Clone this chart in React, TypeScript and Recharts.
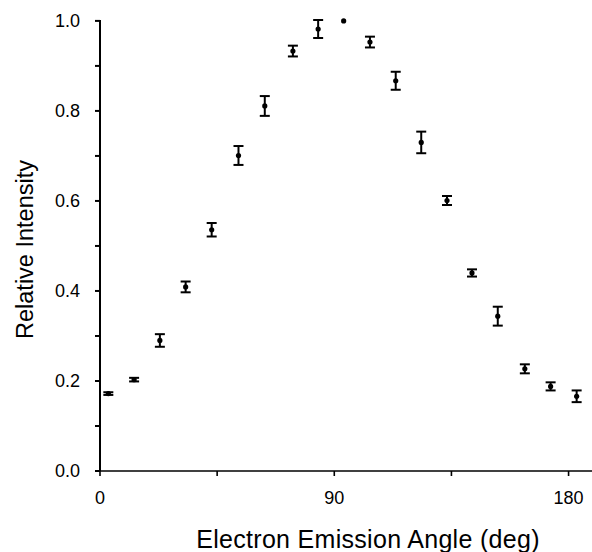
import { ScatterChart, Scatter, XAxis, YAxis, ErrorBar, Label } from "recharts";

// angle (deg) of each measurement
const angles = [3.2, 13.1, 23.0, 32.9, 42.9, 53.2, 63.3, 74.1, 83.8, 93.6, 103.7, 113.6, 123.4, 133.3, 142.9, 152.8, 163.2, 173.1, 183.1];
// relative intensity
const intensity = [0.172, 0.203, 0.29, 0.409, 0.536, 0.701, 0.811, 0.933, 0.982, 1.0, 0.953, 0.867, 0.73, 0.601, 0.44, 0.344, 0.227, 0.188, 0.166];
// +/- error
const errors = [0.003, 0.004, 0.014, 0.012, 0.015, 0.021, 0.022, 0.012, 0.02, 0, 0.012, 0.02, 0.024, 0.01, 0.008, 0.021, 0.01, 0.009, 0.013];

const xTicks = [0, 45, 90, 135, 180];
const xLabels = ["0", "90", "180"];
const yTicks = [0, 0.1, 0.2, 0.3, 0.4, 0.5, 0.6, 0.7, 0.8, 0.9, 1.0];
const yLabels = ["0.0", "0.2", "0.4", "0.6", "0.8", "1.0"];

const data = angles.map((a, i) => ({ angle: a, value: intensity[i], err: errors[i] }));

const font = "'Liberation Sans', Arial, Helvetica, sans-serif";

function XTick(props: any) {
    const { x, y, payload } = props;
    const txt = String(payload.value);
    if (!xLabels.includes(txt)) return null;
    return (
        <text x={x} y={y} dy={15} textAnchor="middle" fontSize={18} fontFamily={font} fill="#000">
            {txt}
        </text>
    );
}

function YTick(props: any) {
    const { x, y, payload } = props;
    const txt = Number(payload.value).toFixed(1);
    if (!yLabels.includes(txt)) return null;
    return (
        <text x={x} y={y} dy={6} textAnchor="end" fontSize={18} fontFamily={font} fill="#000">
            {txt}
        </text>
    );
}

const Dot = (props: any) => {
    const { cx, cy } = props;
    return <circle cx={cx} cy={cy} r={2.6} fill="#000" />;
};

export default function App() {
    return (
        <div style={{ position: "absolute", left: 0, top: 0, width: 592, height: 552, background: "#fff" }}>
            <ScatterChart
                width={592}
                height={552}
                margin={{ top: 20, right: 0, left: 10, bottom: 51 }}
            >
                <XAxis
                    type="number"
                    dataKey="angle"
                    domain={[0, 189]}
                    ticks={xTicks}
                    tick={<XTick />}
                    tickSize={5}
                    tickMargin={13}
                    height={30}
                    stroke="#000"
                    strokeWidth={1.6}
                    allowDataOverflow
                >
                    <Label
                        content={() => (
                            <text x={368} y={548} textAnchor="middle" fontSize={25} letterSpacing={0.3} fontFamily={font} fill="#000">
                                Electron Emission Angle (deg)
                            </text>
                        )}
                    />
                </XAxis>
                <YAxis
                    type="number"
                    dataKey="value"
                    domain={[0, 1]}
                    ticks={yTicks}
                    tick={<YTick />}
                    tickSize={5}
                    tickMargin={15}
                    width={90}
                    stroke="#000"
                    strokeWidth={2}
                >
                    <Label
                        content={() => (
                            <text
                                transform="translate(33,249.5) rotate(-90)"
                                textAnchor="middle"
                                fontSize={23.5}
                                fontFamily={font}
                                fill="#000"
                            >
                                Relative Intensity
                            </text>
                        )}
                    />
                </YAxis>
                <Scatter data={data} shape={<Dot />} isAnimationActive={false}>
                    <ErrorBar dataKey="err" direction="y" width={5} stroke="#000" strokeWidth={2} isAnimationActive={false} />
                </Scatter>
            </ScatterChart>
        </div>
    );
}
